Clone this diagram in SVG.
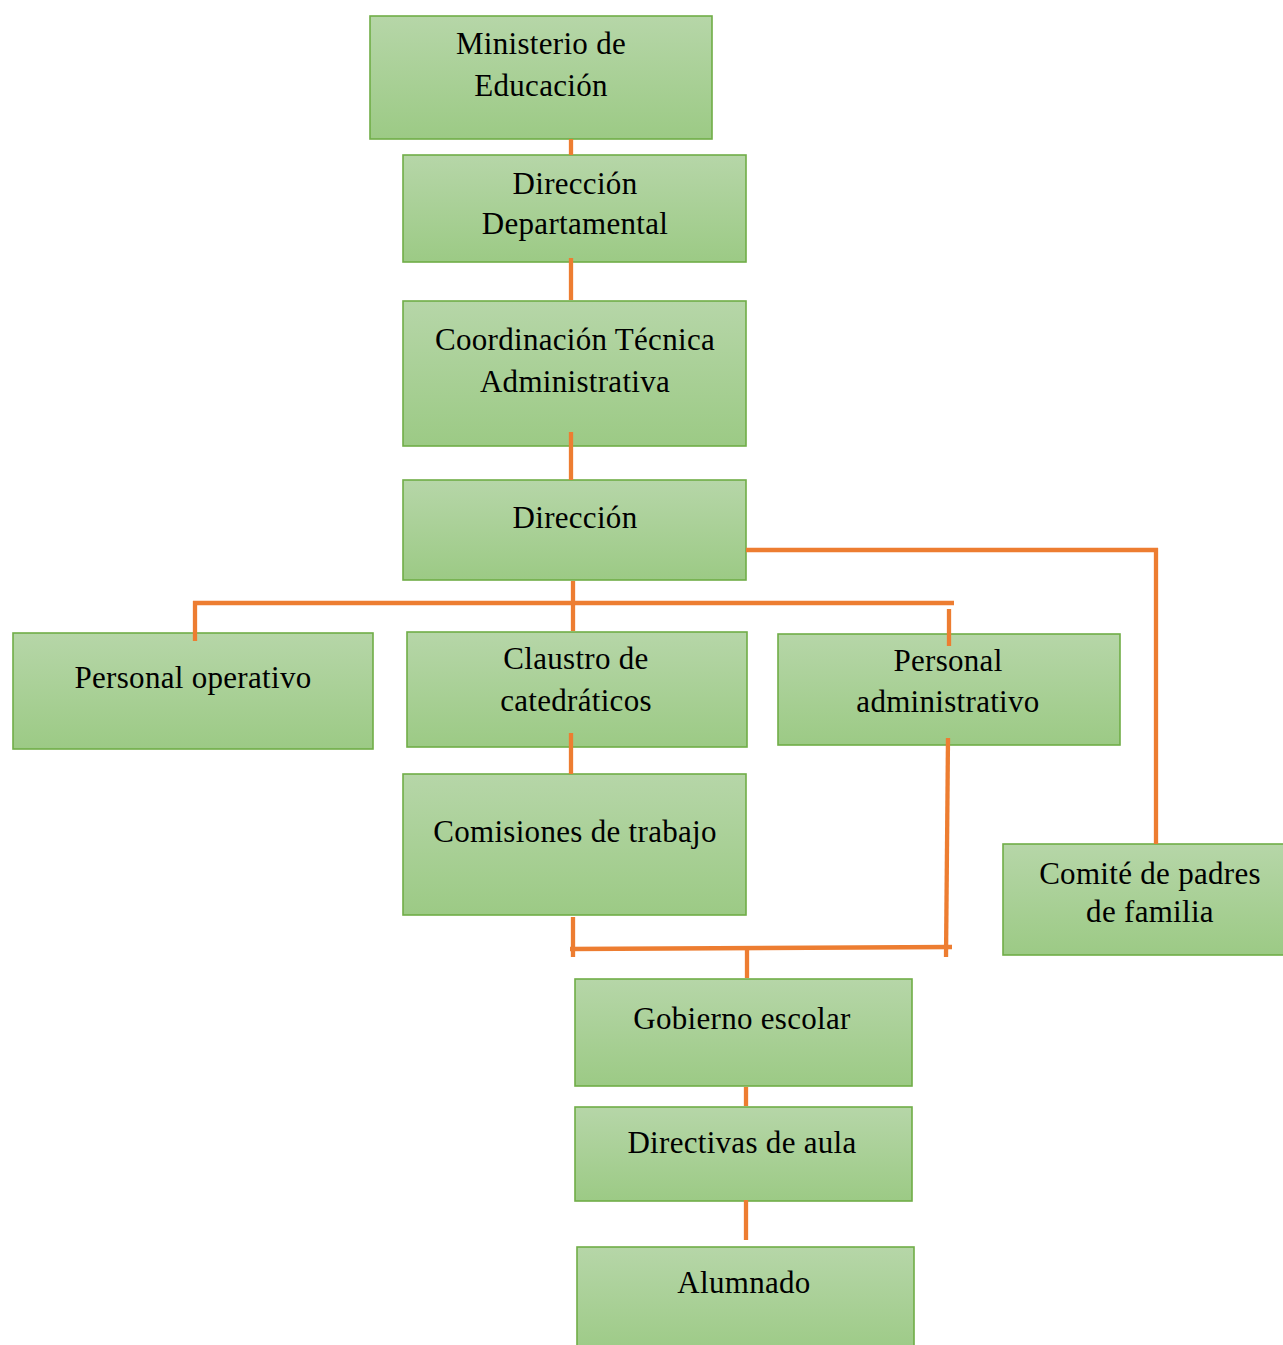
<svg xmlns="http://www.w3.org/2000/svg" width="1283" height="1345" viewBox="0 0 1283 1345">
<defs>
<linearGradient id="g" x1="0" y1="0" x2="0" y2="1">
<stop offset="0" stop-color="#b6d6a8"/>
<stop offset="1" stop-color="#9cca85"/>
</linearGradient>
</defs>
<style>
.box{fill:url(#g);stroke:#70ad47;stroke-width:1.6}
.t{font-family:"Liberation Serif","Times New Roman",serif;font-size:31px;letter-spacing:0.3px;fill:#000;text-anchor:middle}
.c{stroke:#ed7d31;stroke-width:4.3;fill:none}
</style>
<rect width="1283" height="1345" fill="#fff"/>
<g id="n-ministerio">
<rect class="box" x="370" y="16" width="342" height="123"/>
<text class="t" x="541" y="54">Ministerio de</text>
<text class="t" x="541" y="96">Educación</text>
</g>
<g id="n-direccion-departamental">
<rect class="box" x="403" y="155" width="343" height="107"/>
<text class="t" x="575" y="194">Dirección</text>
<text class="t" x="575" y="234">Departamental</text>
</g>
<g id="n-coordinacion">
<rect class="box" x="403" y="301" width="343" height="145"/>
<text class="t" x="575" y="350">Coordinación Técnica</text>
<text class="t" x="575" y="392">Administrativa</text>
</g>
<g id="n-direccion">
<rect class="box" x="403" y="480" width="343" height="100"/>
<text class="t" x="575" y="528">Dirección</text>
</g>
<g id="n-personal-operativo">
<rect class="box" x="13" y="633" width="360" height="116"/>
<text class="t" x="193" y="688">Personal operativo</text>
</g>
<g id="n-claustro">
<rect class="box" x="407" y="632" width="340" height="115"/>
<text class="t" x="576" y="669">Claustro de</text>
<text class="t" x="576" y="711">catedráticos</text>
</g>
<g id="n-personal-administrativo">
<rect class="box" x="778" y="634" width="342" height="111"/>
<text class="t" x="948" y="671">Personal</text>
<text class="t" x="948" y="712">administrativo</text>
</g>
<g id="n-comisiones">
<rect class="box" x="403" y="774" width="343" height="141"/>
<text class="t" x="575" y="842">Comisiones de trabajo</text>
</g>
<g id="n-comite">
<rect class="box" x="1003" y="844" width="300" height="111"/>
<text class="t" x="1150" y="884">Comité de padres</text>
<text class="t" x="1150" y="922">de familia</text>
</g>
<g id="n-gobierno">
<rect class="box" x="575" y="979" width="337" height="107"/>
<text class="t" x="742" y="1029">Gobierno escolar</text>
</g>
<g id="n-directivas">
<rect class="box" x="575" y="1107" width="337" height="94"/>
<text class="t" x="742" y="1153">Directivas de aula</text>
</g>
<g id="n-alumnado">
<rect class="box" x="577" y="1247" width="337" height="110"/>
<text class="t" x="744" y="1293">Alumnado</text>
</g>
<g id="connectors">
<line class="c" x1="571" y1="139" x2="571" y2="155"/>
<line class="c" x1="571" y1="258" x2="571" y2="300"/>
<line class="c" x1="571" y1="432" x2="571" y2="480"/>
<line class="c" x1="573" y1="581" x2="573" y2="631"/>
<line class="c" x1="193" y1="603" x2="954" y2="603"/>
<line class="c" x1="195" y1="601" x2="195" y2="641"/>
<line class="c" x1="949" y1="609" x2="949" y2="646"/>
<line class="c" x1="746" y1="550" x2="1158" y2="550"/>
<line class="c" x1="1156" y1="548" x2="1156" y2="844"/>
<line class="c" x1="571" y1="733" x2="571" y2="774"/>
<line class="c" x1="948" y1="738" x2="946" y2="957"/>
<line class="c" x1="573" y1="917" x2="573" y2="957"/>
<line class="c" x1="570" y1="949" x2="952" y2="947"/>
<line class="c" x1="747" y1="949" x2="747" y2="978"/>
<line class="c" x1="746" y1="1087" x2="746" y2="1106"/>
<line class="c" x1="746" y1="1200" x2="746" y2="1240"/>
</g>
</svg>
